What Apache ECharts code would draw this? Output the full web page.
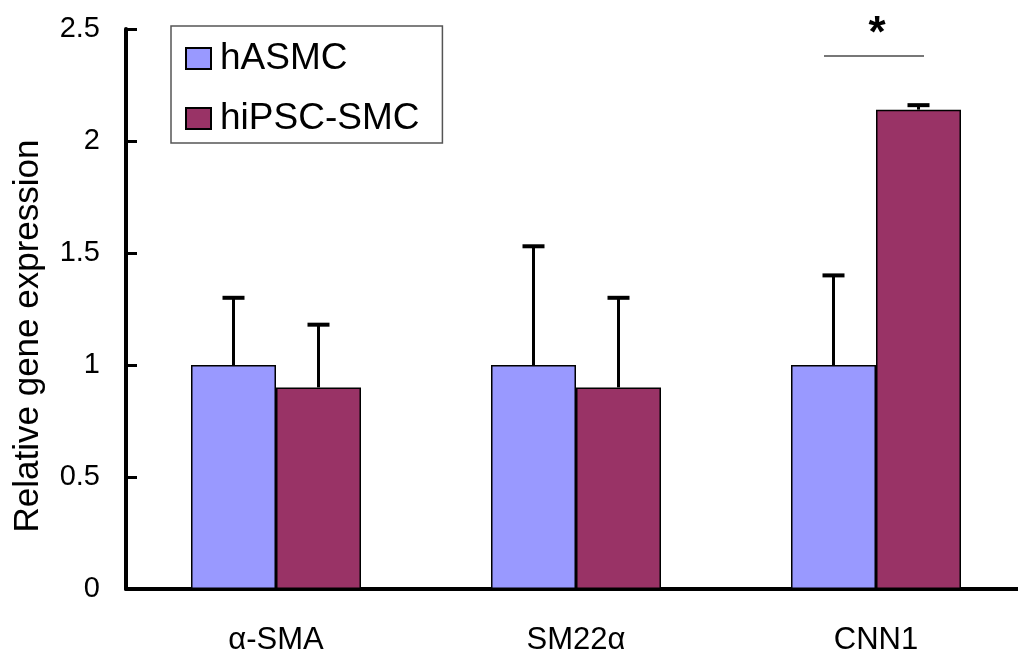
<!DOCTYPE html>
<html>
<head>
<meta charset="utf-8">
<script src="https://cdn.jsdelivr.net/npm/echarts@6/dist/echarts.min.js"></script>
<style>
  html, body { margin: 0; padding: 0; background: #fff; }
  #chart { width: 1018px; height: 656px; }
</style>
</head>
<body>
<div id="chart"></div>
<script>
const categories = ["α-SMA", "SM22α", "CNN1"];
const hASMC = [1.0, 1.0, 1.0];
const hASMCErr = [1.30, 1.53, 1.40];
const hiPSC = [0.90, 0.90, 2.14];
const hiPSCErr = [1.18, 1.30, 2.16];
const sigCategory = 2;
const sigLevel = 2.38;

const FONT = "'Liberation Sans', Arial, sans-serif";
const BAR_W = 85;

const chart = echarts.init(document.getElementById("chart"));

// upper error bars, offset to sit on each bar of the pair
function errorSeries(name, values, tops, side) {
  return {
    type: "custom",
    name: name,
    z: 5,
    data: values.map((v, i) => [i, v, tops[i]]),
    renderItem: function (params, api) {
      const base = api.coord([api.value(0), api.value(1)]);
      const top = api.coord([api.value(0), api.value(2)]);
      const x = base[0] + side * BAR_W / 2;
      return {
        type: "group",
        children: [
          { type: "line", shape: { x1: x, y1: base[1], x2: x, y2: top[1] },
            style: { stroke: "#000", lineWidth: 3 } },
          { type: "line", shape: { x1: x - 11, y1: top[1], x2: x + 11, y2: top[1] },
            style: { stroke: "#000", lineWidth: 4 } }
        ]
      };
    }
  };
}

const option = {
  animation: false,
  backgroundColor: "#fff",
  textStyle: { fontFamily: FONT },
  grid: { left: 126, top: 29, width: 900, height: 560, containLabel: false, outerBoundsMode: "none" },
  legend: {
    left: 171,
    top: 26,
    orient: "vertical",
    data: ["hASMC", "hiPSC-SMC"],
    icon: "rect",
    itemWidth: 25,
    itemHeight: 21,
    itemGap: 23,
    padding: [14, 23, 6, 14],
    borderColor: "#555",
    borderWidth: 1.5,
    itemStyle: { borderColor: "#000", borderWidth: 2 },
    textStyle: { fontFamily: FONT, fontSize: 37, color: "#000", padding: [0, 0, 0, 4] }
  },
  xAxis: {
    type: "category",
    data: categories,
    axisLine: { lineStyle: { color: "#000", width: 4 } },
    axisTick: { inside: true, length: 7, lineStyle: { color: "#000", width: 3 } },
    axisLabel: { fontFamily: FONT, fontSize: 31, color: "#000", margin: 36 }
  },
  yAxis: {
    type: "value",
    min: 0,
    max: 2.5,
    interval: 0.5,
    name: "Relative gene expression",
    nameLocation: "middle",
    nameGap: 80,
    nameTextStyle: { fontFamily: FONT, fontSize: 35, color: "#000", padding: [0, 54, 0, 0] },
    splitLine: { show: false },
    axisLine: { show: true, lineStyle: { color: "#000", width: 4 } },
    axisTick: { show: true, inside: true, length: 11, lineStyle: { color: "#000", width: 3 } },
    axisLabel: { fontFamily: FONT, fontSize: 29, color: "#000", margin: 26 }
  },
  series: [
    {
      type: "bar",
      name: "hASMC",
      data: hASMC,
      barWidth: BAR_W,
      barGap: "0%",
      itemStyle: { color: "#9999FF", borderColor: "#000", borderWidth: 1.5 }
    },
    {
      type: "bar",
      name: "hiPSC-SMC",
      data: hiPSC,
      barWidth: BAR_W,
      barGap: "0%",
      itemStyle: { color: "#993366", borderColor: "#000", borderWidth: 1.5 }
    },
    errorSeries("hASMC", hASMC, hASMCErr, -1),
    errorSeries("hiPSC-SMC", hiPSC, hiPSCErr, 1),
    {
      type: "custom",
      name: "sig",
      z: 5,
      data: [[sigCategory, sigLevel]],
      renderItem: function (params, api) {
        const p = api.coord([api.value(0), api.value(1)]);
        return {
          type: "group",
          children: [
            { type: "line", shape: { x1: p[0] - 52, y1: p[1], x2: p[0] + 48, y2: p[1] },
              style: { stroke: "#777", lineWidth: 2 } },
            { type: "text", x: p[0] + 1, y: p[1] + 1,
              style: { text: "*", fill: "#000", font: "bold 44px " + FONT,
                       align: "center", verticalAlign: "bottom" } }
          ]
        };
      }
    }
  ]
};

chart.setOption(option);
</script>
</body>
</html>
